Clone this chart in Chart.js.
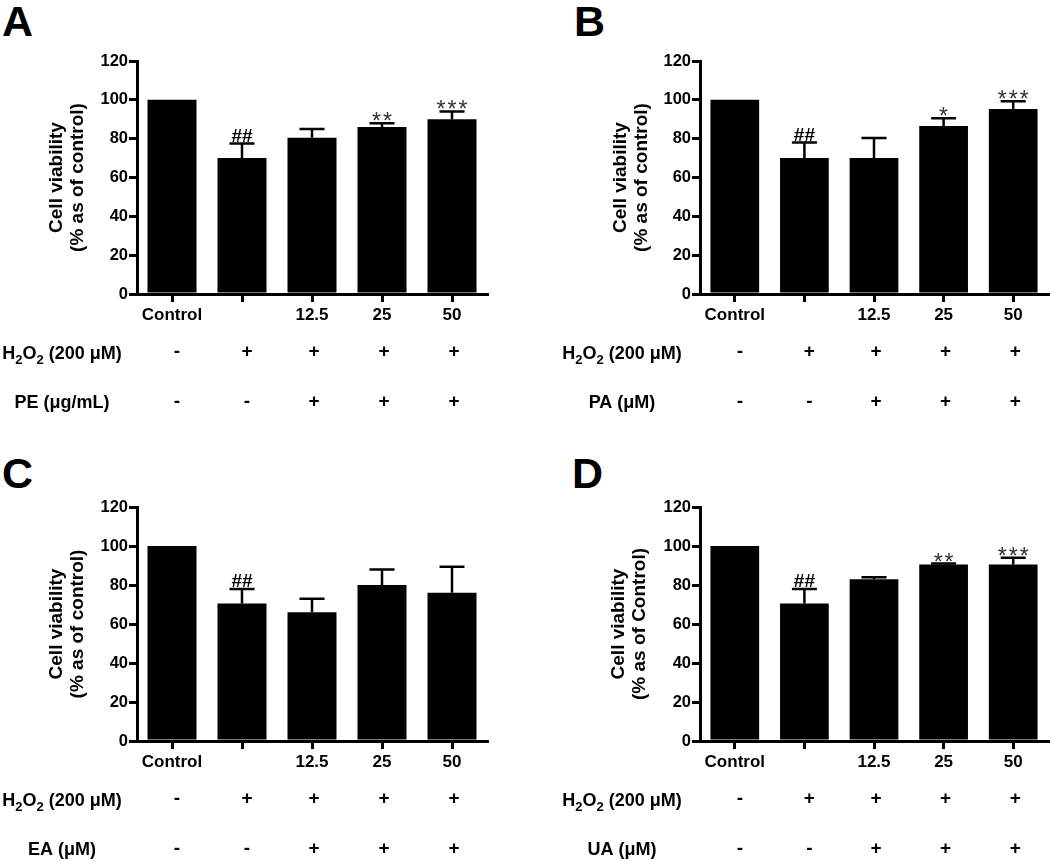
<!DOCTYPE html>
<html><head><meta charset="utf-8">
<script src="https://cdn.jsdelivr.net/npm/chart.js@4.4.1/dist/chart.umd.min.js"></script>
<style>
html,body{margin:0;padding:0;background:#fff;width:1050px;height:860px;overflow:hidden;}
canvas{position:absolute;}
.letter{position:absolute;font:bold 43px "Liberation Sans",Arial,sans-serif;line-height:43px;color:#000;}
</style></head><body>
<div class="letter" style="left:2px;top:0px">A</div>
<div class="letter" style="left:574px;top:0px">B</div>
<div class="letter" style="left:2px;top:452px">C</div>
<div class="letter" style="left:572px;top:452px">D</div>
<canvas id="cA" width="520" height="430" style="left:0;top:0"></canvas>
<canvas id="cB" width="530" height="430" style="left:520px;top:0"></canvas>
<canvas id="cC" width="520" height="420" style="left:0;top:440px"></canvas>
<canvas id="cD" width="530" height="420" style="left:520px;top:440px"></canvas>
<script>
// ---- data ----
const categories = ["Control", "", "12.5", "25", "50"];
const yTicks = [0, 20, 40, 60, 80, 100, 120];
const h2o2Signs = ["-", "+", "+", "+", "+"];
const treatSigns = ["-", "-", "+", "+", "+"];
const h2o2Label = ["H", "2", "O", "2", " (200 \u03BCM)"];

const peMean = [100, 70, 80.5, 86, 90];
const peSD = [0, 7.5, 4.5, 2, 4];
const peMarks = ["", "##", "", "**", "***"];

const paMean = [100, 70, 70, 86.5, 95.3];
const paSD = [0, 8, 10.3, 4, 4];
const paMarks = ["", "##", "", "*", "***"];

const eaMean = [100, 70.5, 66, 80, 76];
const eaSD = [0, 7.5, 7, 8, 13.3];
const eaMarks = ["", "##", "", "", ""];

const uaMean = [100, 70.5, 83, 90.5, 90.5];
const uaSD = [0, 7.5, 1, 0.5, 3.5];
const uaMarks = ["", "##", "", "**", "***"];

const titleA = ["Cell viability", "(% as of control)"];
const titleD = ["Cell viability", "(% as of Control)"];
const rowLabels = ["PE (\u03BCg/mL)", "PA (\u03BCM)", "EA (\u03BCM)", "UA (\u03BCM)"];

const FONT = '"Liberation Sans", Arial, sans-serif';

function drawH2O2(ctx, cx, y) {
  const big = 'bold 18px ' + FONT, sub = 'bold 13px ' + FONT;
  const fonts = [big, sub, big, sub, big];
  const offs = [0, 5, 0, 5, 0];
  let w = 0;
  h2o2Label.forEach((t, i) => { ctx.font = fonts[i]; w += ctx.measureText(t).width; });
  let x = cx - w / 2;
  ctx.textAlign = 'left'; ctx.textBaseline = 'alphabetic';
  h2o2Label.forEach((t, i) => {
    ctx.font = fonts[i];
    ctx.fillText(t, x, y + 6.5 + offs[i]);
    x += ctx.measureText(t).width;
  });
}

const annot = {
  id: 'annot',
  afterDatasetsDraw(chart, args, opts) {
    const ctx = chart.ctx, ys = chart.scales.y;
    const meta = chart.getDatasetMeta(0);
    const mean = chart.data.datasets[0].data;
    ctx.save();
    ctx.strokeStyle = '#000'; ctx.lineWidth = 2.5;
    meta.data.forEach((bar, i) => {
      const sd = opts.sd[i];
      const topY = ys.getPixelForValue(mean[i] + sd);
      if (sd > 0) {
        const by = ys.getPixelForValue(mean[i]);
        ctx.beginPath();
        ctx.moveTo(bar.x, by); ctx.lineTo(bar.x, topY);
        ctx.moveTo(bar.x - 12.5, topY); ctx.lineTo(bar.x + 12.5, topY);
        ctx.stroke();
      }
      const m = opts.marks[i];
      if (m) {
        ctx.textAlign = 'center'; ctx.textBaseline = 'alphabetic';
        if (m[0] === '#') {
          ctx.font = 'bold 19px ' + FONT; ctx.fillStyle = '#000';
          ctx.fillText(m, bar.x, topY - 2);
        } else {
          ctx.font = '23px ' + FONT; ctx.fillStyle = '#333';
          ctx.letterSpacing = '2px';
          ctx.fillText(m, bar.x + 1, topY + 6);
          ctx.letterSpacing = '0px';
        }
      }
    });
    ctx.restore();
  },
  afterDraw(chart, args, opts) {
    const ctx = chart.ctx, xs = chart.scales.x;
    const base = chart.chartArea.bottom;
    const r1 = base + opts.rows[0], r2 = base + opts.rows[1];
    ctx.save();
    ctx.fillStyle = '#000';
    drawH2O2(ctx, opts.labelX, r1);
    ctx.font = 'bold 18px ' + FONT;
    ctx.textAlign = 'center'; ctx.textBaseline = 'alphabetic';
    ctx.fillText(opts.rowLabel, opts.labelX, r2 + 6.5);
    ctx.font = 'bold 19px ' + FONT;
    ctx.textBaseline = 'middle';
    categories.forEach((c, i) => {
      const x = xs.getPixelForValue(i) + (i < 2 ? 5 : 2);
      ctx.fillText(h2o2Signs[i], x, r1);
      ctx.fillText(treatSigns[i], x, r2);
    });
    ctx.restore();
  }
};

function makeChart(id, mean, sd, marks, yTitle, rowLabel, L) {
  new Chart(document.getElementById(id), {
    type: 'bar',
    data: { labels: categories, datasets: [{ data: mean, backgroundColor: '#000', borderWidth: 0, barPercentage: 0.7, categoryPercentage: 1 }] },
    options: {
      responsive: false, animation: false, devicePixelRatio: 1,
      layout: { padding: { top: L.top, left: 0, right: L.right, bottom: 0 } },
      plugins: {
        legend: { display: false }, tooltip: { enabled: false },
        annot: { sd: sd, marks: marks, rowLabel: rowLabel, labelX: L.labelX, rows: [58, 107.5] }
      },
      scales: {
        x: {
          grid: { display: true, drawOnChartArea: false, offset: false, color: '#000', tickColor: '#000', lineWidth: 3, tickWidth: 3, tickLength: 8 },
          border: { display: true, color: '#000', width: 3 },
          ticks: { color: '#000', font: { family: FONT, weight: 'bold', size: 17 }, padding: 3, maxRotation: 0, autoSkip: false },
          afterFit: s => { s.height = L.xH; }
        },
        y: {
          min: 0, max: 120,
          afterBuildTicks: s => { s.ticks = yTicks.map(v => ({ value: v })); },
          grid: { display: true, drawOnChartArea: false, color: '#000', tickColor: '#000', lineWidth: 3, tickWidth: 3, tickLength: 8 },
          border: { display: true, color: '#000', width: 3 },
          ticks: { color: '#000', font: { family: FONT, weight: 'bold', size: 16.5 }, padding: 1 },
          title: { display: true, text: yTitle, color: '#000', font: { family: FONT, weight: 'bold', size: 19, lineHeight: 1.1 }, padding: { top: L.tp, bottom: 0 } },
          afterFit: s => { s.width = L.yW; }
        }
      }
    },
    plugins: [annot]
  });
}

makeChart('cA', peMean, peSD, peMarks, titleA, rowLabels[0], { top: 61, right: 33, xH: 136, yW: 137, tp: 46, labelX: 62 });
makeChart('cB', paMean, paSD, paMarks, titleA, rowLabels[1], { top: 61, right: 2, xH: 136, yW: 180, tp: 90, labelX: 102 });
makeChart('cC', eaMean, eaSD, eaMarks, titleA, rowLabels[2], { top: 67, right: 33, xH: 119, yW: 137, tp: 46, labelX: 62 });
makeChart('cD', uaMean, uaSD, uaMarks, titleD, rowLabels[3], { top: 67, right: 2, xH: 119, yW: 180, tp: 88, labelX: 102 });
</script>
</body></html>
